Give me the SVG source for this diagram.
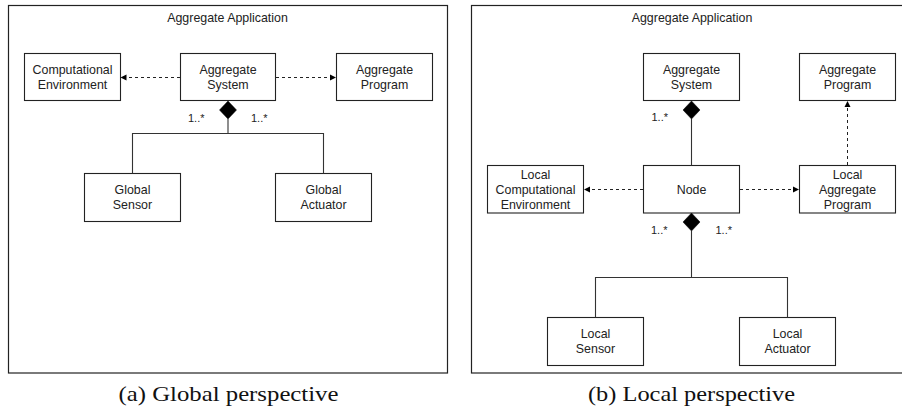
<svg xmlns="http://www.w3.org/2000/svg" width="902" height="407" viewBox="0 0 902 407">
<style>
  .frame { fill: #fff; stroke: #222; stroke-width: 1.2; }
  .box { fill: #fff; stroke: #222; stroke-width: 1.1; }
  .t { font-family: "Liberation Sans", Arial, sans-serif; font-size: 12.4px; fill: #222; text-anchor: middle; }
  .m { font-family: "Liberation Sans", Arial, sans-serif; font-size: 11px; fill: #222; }
  .cap { font-family: "Liberation Serif", "Times New Roman", serif; font-size: 21px; fill: #111; text-anchor: middle; }
  .solid { fill: none; stroke: #333; stroke-width: 1.1; }
  .dash { fill: none; stroke: #222; stroke-width: 1; stroke-dasharray: 3 3; marker-end: url(#arr); }
  .dia { fill: #000; stroke: #000; stroke-width: 0.5; }
</style>
<defs>
  <marker id="arr" markerUnits="userSpaceOnUse" markerWidth="7" markerHeight="7" refX="6" refY="3.5" orient="auto">
    <path d="M0,0.5 L6,3.5 L0,6.5 z" fill="#000"/>
  </marker>
</defs>
<rect width="902" height="407" fill="#fff"/>

<!-- Panel (a) -->
<g id="frame-a">
  <rect class="frame" x="8.5" y="5.5" width="439" height="367.5"/>
  <text class="t" x="227.5" y="22">Aggregate Application</text>
</g>
<g id="a-comp-env">
  <rect class="box" x="24.5" y="53.5" width="96" height="47"/>
  <text class="t" x="72.5" y="74">Computational</text>
  <text class="t" x="72.5" y="89">Environment</text>
</g>
<g id="a-agg-system">
  <rect class="box" x="180.5" y="53.5" width="95" height="47"/>
  <text class="t" x="228" y="74">Aggregate</text>
  <text class="t" x="228" y="89">System</text>
</g>
<g id="a-agg-program">
  <rect class="box" x="336.5" y="53.5" width="96" height="47"/>
  <text class="t" x="384.5" y="74">Aggregate</text>
  <text class="t" x="384.5" y="89">Program</text>
</g>
<g id="a-global-sensor">
  <rect class="box" x="84.5" y="173.5" width="96" height="48"/>
  <text class="t" x="132.5" y="194">Global</text>
  <text class="t" x="132.5" y="209">Sensor</text>
</g>
<g id="a-global-actuator">
  <rect class="box" x="275.5" y="173.5" width="96" height="48"/>
  <text class="t" x="323.5" y="194">Global</text>
  <text class="t" x="323.5" y="209">Actuator</text>
</g>

<!-- Panel (b) -->
<g id="frame-b">
  <rect class="frame" x="471.5" y="5.5" width="440" height="367.5"/>
  <text class="t" x="692" y="22">Aggregate Application</text>
</g>
<g id="b-agg-system">
  <rect class="box" x="643.5" y="53.5" width="96" height="47"/>
  <text class="t" x="691.5" y="74">Aggregate</text>
  <text class="t" x="691.5" y="89">System</text>
</g>
<g id="b-agg-program">
  <rect class="box" x="799.5" y="53.5" width="96" height="47"/>
  <text class="t" x="847.5" y="74">Aggregate</text>
  <text class="t" x="847.5" y="89">Program</text>
</g>
<g id="b-local-comp-env">
  <rect class="box" x="487.5" y="165.5" width="96" height="47.5"/>
  <text class="t" x="535.5" y="178.5">Local</text>
  <text class="t" x="535.5" y="193.5">Computational</text>
  <text class="t" x="535.5" y="208.5">Environment</text>
</g>
<g id="b-node">
  <rect class="box" x="643.5" y="165.5" width="96" height="47.5"/>
  <text class="t" x="691.5" y="194">Node</text>
</g>
<g id="b-local-agg-program">
  <rect class="box" x="799.5" y="165.5" width="96" height="47.5"/>
  <text class="t" x="847.5" y="178.5">Local</text>
  <text class="t" x="847.5" y="193.5">Aggregate</text>
  <text class="t" x="847.5" y="208.5">Program</text>
</g>
<g id="b-local-sensor">
  <rect class="box" x="547.5" y="317.5" width="96" height="48"/>
  <text class="t" x="595.5" y="338">Local</text>
  <text class="t" x="595.5" y="353">Sensor</text>
</g>
<g id="b-local-actuator">
  <rect class="box" x="739.5" y="317.5" width="96" height="48"/>
  <text class="t" x="787.5" y="338">Local</text>
  <text class="t" x="787.5" y="353">Actuator</text>
</g>

<!-- Connectors -->
<g id="connectors">
  <!-- panel a -->
  <path class="dash" d="M180,77.5 H120.5"/>
  <path class="dash" d="M276,77.5 H336"/>
  <path class="solid" d="M228,119 V133.5 M132.5,173.5 V133.5 H323.5 V173.5"/>
  <polygon class="dia" points="228,101 236.5,110 228,119 219.5,110"/>
  <text class="m" x="188" y="121.5">1..*</text>
  <text class="m" x="251" y="121.5">1..*</text>
  <!-- panel b -->
  <path class="solid" d="M691.5,119 V165.5"/>
  <polygon class="dia" points="691.5,101 700,110 691.5,119 683,110"/>
  <text class="m" x="651.5" y="120.5">1..*</text>
  <path class="dash" d="M643,189.5 H584"/>
  <path class="dash" d="M740,189.5 H799"/>
  <path class="dash" d="M847.5,165 V101"/>
  <path class="solid" d="M691.5,231 V277.5 M595.5,317.5 V277.5 H787.5 V317.5"/>
  <polygon class="dia" points="691.5,213 700,222 691.5,231 683,222"/>
  <text class="m" x="651" y="233.5">1..*</text>
  <text class="m" x="715.5" y="233.5">1..*</text>
</g>

<!-- Captions -->
<text class="cap" x="228.5" y="400.5" textLength="220" lengthAdjust="spacingAndGlyphs">(a) Global perspective</text>
<text class="cap" x="691.5" y="400.5" textLength="207" lengthAdjust="spacingAndGlyphs">(b) Local perspective</text>
</svg>
